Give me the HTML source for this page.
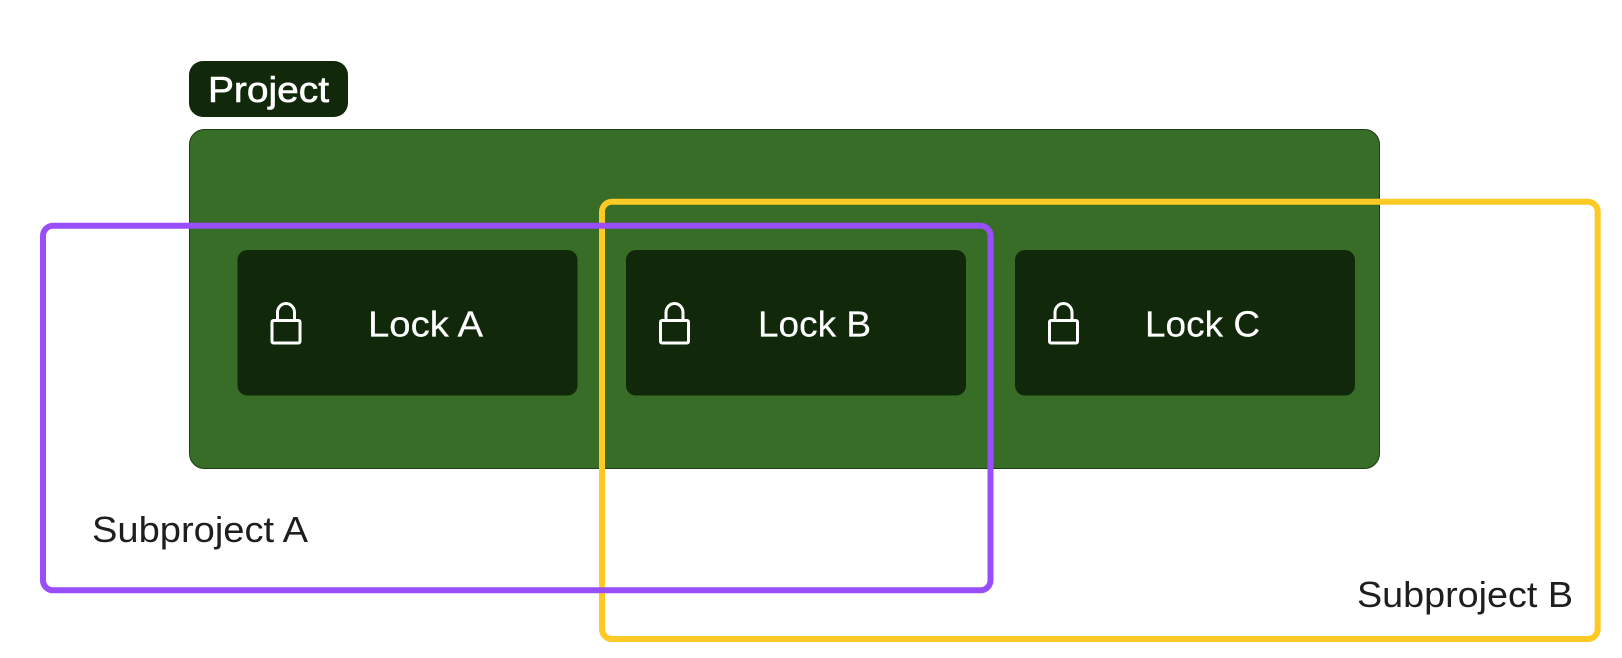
<!DOCTYPE html>
<html>
<head>
<meta charset="utf-8">
<style>
html,body{margin:0;padding:0;background:#fff;width:1622px;height:658px;overflow:hidden}
svg{display:block}
text{font-family:"Liberation Sans",sans-serif;font-size:36px}
</style>
</head>
<body>
<svg width="1622" height="658" viewBox="0 0 1622 658" xmlns="http://www.w3.org/2000/svg">
<rect width="1622" height="658" fill="#fff"/>
<rect x="189" y="61" width="159" height="56" rx="14" fill="#11290a"/>
<text x="208" y="102" fill="#fff" stroke="#fff" stroke-width="0.6" textLength="121" lengthAdjust="spacingAndGlyphs">Project</text>
<rect x="189.500" y="129.500" width="1190" height="339" rx="15" fill="#376d26" stroke="#1d3d13" stroke-width="1"/>
<rect x="237.500" y="250" width="340" height="145.500" rx="10" fill="#11290a"/>
<rect x="626" y="250" width="340" height="145.500" rx="10" fill="#11290a"/>
<rect x="1015" y="250" width="340" height="145.500" rx="10" fill="#11290a"/>
<g fill="none" stroke="#fff" stroke-width="3" stroke-linejoin="round">
<g>
<rect x="272" y="320.500" width="28" height="22.500" rx="1.500"/>
<path d="M277.500 320.500V312.500a8.500 9 0 0 1 17 0V320.500"/>
</g>
<g>
<rect x="660.500" y="320.500" width="28" height="22.500" rx="1.500"/>
<path d="M666 320.500V312.500a8.500 9 0 0 1 17 0V320.500"/>
</g>
<g>
<rect x="1049.500" y="320.500" width="28" height="22.500" rx="1.500"/>
<path d="M1055 320.500V312.500a8.500 9 0 0 1 17 0V320.500"/>
</g>
</g>
<g fill="#fff" stroke="#fff" stroke-width="0.2">
<text x="368" y="336.500" textLength="115" lengthAdjust="spacingAndGlyphs">Lock A</text>
<text x="758" y="336.500" textLength="113" lengthAdjust="spacingAndGlyphs">Lock B</text>
<text x="1145" y="336.500" textLength="115" lengthAdjust="spacingAndGlyphs">Lock C</text>
</g>
<rect x="602" y="201.700" width="995.700" height="437.300" rx="10" fill="none" stroke="#fdc925" stroke-width="6"/>
<rect x="43" y="225.800" width="947.500" height="364.500" rx="10" fill="none" stroke="#984ffa" stroke-width="6"/>
<text x="92" y="542" fill="#1e1e1e" textLength="216" lengthAdjust="spacingAndGlyphs">Subproject A</text>
<text x="1357" y="607" fill="#1e1e1e" textLength="216" lengthAdjust="spacingAndGlyphs">Subproject B</text>
</svg>
</body>
</html>
